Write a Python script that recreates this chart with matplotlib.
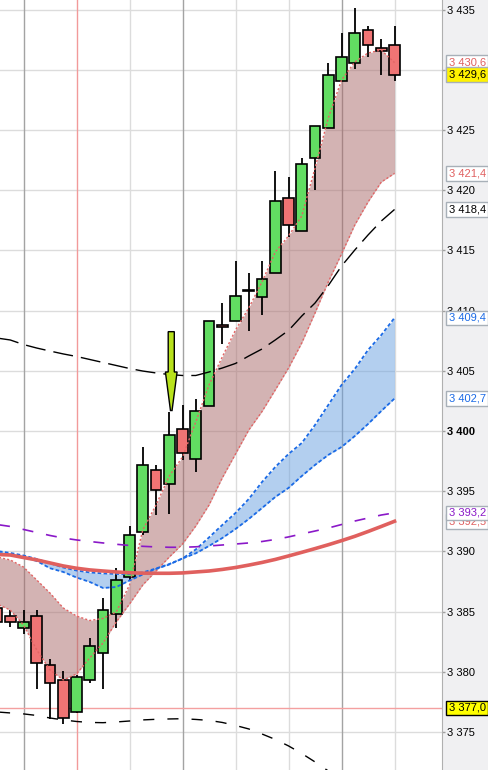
import numpy as np
import matplotlib.pyplot as plt

plt.rcParams['font.family'] = ['Liberation Sans', 'DejaVu Sans']

# bars, left to right (the first one is cut off by the left edge)
bar_open = [3385.3, 3384.6, 3383.6, 3384.6, 3380.6, 3379.3, 3376.65, 3379.3, 3381.6, 3384.8,
            3387.85, 3391.6, 3396.8, 3395.6, 3400.15, 3397.65, 3402.1, 3408.8, 3409.1, 3411.6,
            3411.1, 3413.1, 3419.35, 3416.6, 3422.65, 3425.15, 3429.1, 3430.6, 3433.3, 3431.8, 3432.1]
bar_high = [3385.8, 3385.1, 3385.1, 3385.1, 3381.1, 3380.1, 3379.7, 3382.8, 3386.1, 3388.6,
            3392.1, 3398.65, 3397.15, 3401.6, 3402.15, 3402.65, 3409.1, 3410.65, 3414.1, 3413.1,
            3414.1, 3421.6, 3421.1, 3422.65, 3425.3, 3430.6, 3433.1, 3435.15, 3433.6, 3432.6, 3433.6]
bar_low = [3383.8, 3383.75, 3383.1, 3378.6, 3376.1, 3375.65, 3376.6, 3379.1, 3378.6, 3383.6,
           3387.6, 3391.35, 3393.0, 3393.1, 3397.6, 3396.6, 3402.1, 3407.25, 3409.1, 3408.3,
           3409.6, 3413.1, 3416.1, 3416.6, 3420.0, 3425.15, 3429.1, 3430.1, 3431.1, 3429.6, 3429.1]
bar_close = [3384.1, 3384.1, 3384.1, 3380.75, 3379.1, 3376.15, 3379.6, 3382.1, 3385.1, 3387.6,
             3391.35, 3397.15, 3395.1, 3399.65, 3398.15, 3401.65, 3409.1, 3408.6, 3411.25, 3411.6,
             3412.6, 3419.1, 3417.1, 3422.15, 3425.3, 3429.6, 3431.1, 3433.1, 3432.1, 3431.6, 3429.6]
first_bar = -1

# brown band
cloud_upper = [3389.53, 3389.29, 3388.70, 3387.62, 3386.54, 3385.30, 3384.63, 3384.26, 3384.43, 3384.97,
               3387.21, 3391.78, 3393.85, 3396.26, 3397.84, 3400.75, 3403.82, 3406.15, 3408.39, 3410.22,
               3412.38, 3414.87, 3416.20, 3417.86, 3421.84, 3426.00, 3429.15, 3430.65, 3431.40, 3431.64, 3430.6]
cloud_lower = [3385.63, 3385.13, 3383.89, 3381.81, 3380.15, 3379.32, 3379.82, 3381.15, 3382.39, 3384.14,
               3385.63, 3387.21, 3388.37, 3389.53, 3390.61, 3392.11, 3393.85, 3396.10, 3398.09, 3400.08,
               3401.62, 3403.41, 3405.23, 3407.31, 3409.80, 3412.38, 3414.70, 3417.11, 3419.02, 3420.68, 3421.4]

# blue band
channel_upper = [3390.03, 3389.87, 3389.66, 3389.37, 3389.01, 3388.66, 3388.41, 3388.25, 3388.17, 3388.12,
                 3388.12, 3388.25, 3388.58, 3388.95, 3389.41, 3390.16, 3391.16, 3392.19, 3393.19, 3394.35,
                 3395.76, 3397.01, 3398.09, 3399.00, 3400.50, 3402.16, 3403.82, 3405.15, 3406.73, 3407.97, 3409.4]
channel_lower = [3389.87, 3389.74, 3389.53, 3389.20, 3388.60, 3388.29, 3387.83, 3387.46, 3386.96, 3387.04,
                 3387.58, 3388.08, 3388.54, 3388.91, 3389.41, 3389.84, 3390.45, 3391.11, 3391.86, 3392.69,
                 3393.60, 3394.52, 3395.27, 3396.26, 3397.18, 3398.01, 3398.67, 3399.58, 3400.58, 3401.66, 3402.7]

sma_line = [3389.74, 3389.70, 3389.49, 3389.29, 3389.04, 3388.79, 3388.60, 3388.46, 3388.37, 3388.29,
            3388.23, 3388.19, 3388.18, 3388.18, 3388.21, 3388.29, 3388.37, 3388.50, 3388.66, 3388.86,
            3389.08, 3389.33, 3389.62, 3389.92, 3390.23, 3390.55, 3390.89, 3391.25, 3391.65, 3392.07, 3392.5]
ma_dashed = [3392.23, 3392.07, 3391.82, 3391.57, 3391.32, 3391.11, 3390.95, 3390.82, 3390.70, 3390.59,
             3390.49, 3390.42, 3390.37, 3390.34, 3390.34, 3390.38, 3390.45, 3390.53, 3390.61, 3390.70,
             3390.82, 3390.99, 3391.20, 3391.45, 3391.69, 3391.94, 3392.23, 3392.52, 3392.77, 3393.02, 3393.2]
env_upper = [3407.72, 3407.56, 3407.18, 3406.89, 3406.64, 3406.40, 3406.19, 3405.94, 3405.69, 3405.44,
             3405.19, 3404.98, 3404.82, 3404.69, 3404.61, 3404.61, 3404.90, 3405.23, 3405.61, 3406.23,
             3406.81, 3407.56, 3408.35, 3409.55, 3410.63, 3412.08, 3413.70, 3415.03, 3416.28, 3417.44, 3418.4]
env_lower = [3376.66, 3376.58, 3376.50, 3376.37, 3376.16, 3376.00, 3375.87, 3375.79, 3375.77, 3375.83,
             3375.91, 3376.00, 3376.05, 3376.08, 3376.10, 3376.04, 3375.96, 3375.79, 3375.54, 3375.25,
             3374.83, 3374.38, 3373.84, 3373.21, 3372.51, 3371.76, 3371.00, 3370.20, 3369.40, 3368.50, 3367.6]

level_price = 3377.0
signal_bar = 12
session_bar = 5
grid_bars = [1, 5, 9, 13, 17, 21, 25, 29]
y_ticks = [3375, 3380, 3385, 3390, 3395, 3400, 3405, 3410, 3415, 3420, 3425, 3430, 3435]


def price_text(v):
    return f"{v:,.1f}".replace(",", " ").replace(".", ",")


def tick_text(v):
    return f"{v:,.0f}".replace(",", " ")


x = np.arange(len(bar_open)) + first_bar

fig = plt.figure(figsize=(4.88, 7.70), dpi=100, facecolor='#f0f0f2')
ax = fig.add_axes([0, 0, 441.7 / 488, 1])
ax.set_xlim(-0.774, 32.56)
ax.set_ylim(3371.84, 3435.80)

# grid
for t in y_ticks:
    ax.axhline(t, color='#dcdcdc', lw=1, zorder=0)
for b in grid_bars:
    if b == session_bar:
        col = '#f29a9a'
    elif (b - grid_bars[0]) % 12 == 0:
        col = '#a3a3a3'
    else:
        col = '#dcdcdc'
    ax.axvline(b, color=col, lw=1, zorder=0.5)
ax.axhline(level_price, color='#f4a0a0', lw=1, zorder=0.6)

# bands
ax.fill_between(x, cloud_lower, cloud_upper, color='#a96969', alpha=0.5, lw=0, zorder=1)
ax.fill_between(x, channel_lower, channel_upper, color='#69a1e1', alpha=0.5, lw=0, zorder=1.1)

# candles
o = np.array(bar_open)
c = np.array(bar_close)
up = c >= o
ax.vlines(x, bar_low, bar_high, color='black', lw=1.3, zorder=2)
body = np.maximum(np.abs(c - o), 0.1)
ax.bar(x, body, width=0.8, bottom=np.minimum(o, c),
       color=['#62dd62' if u else '#f07474' for u in up],
       edgecolor='black', linewidth=1.2, zorder=2.1)

# lines
ax.plot(x, cloud_upper, color='#e26464', lw=1, ls=(0, (1.5, 1.5)), zorder=3)
ax.plot(x, cloud_lower, color='#e26464', lw=1, ls=(0, (1.5, 1.5)), zorder=3)
ax.plot(x, channel_upper, color='#1a6ae6', lw=1.3, ls=(0, (2, 1.3)), zorder=3)
ax.plot(x, channel_lower, color='#1a6ae6', lw=1.3, ls=(0, (2, 1.3)), zorder=3)
ax.plot(x, sma_line, color='#e0605e', lw=2.6, zorder=3)
ax.plot(x, ma_dashed, color='#8a18c8', lw=1.2, dashes=(6.6, 7.8), zorder=3)
ax.plot(x, env_upper, color='black', lw=1, dashes=(14.4, 5.8), zorder=3)
ax.plot(x, env_lower, color='black', lw=1, dashes=(8, 9.4), zorder=3)

# signal arrow above the bar
k = signal_bar - first_bar
ax_x = signal_bar + 0.15
tip = bar_high[k] + 0.1
head = tip + 3.2
tail = tip + 6.55
ax.fill([ax_x - 0.23, ax_x + 0.23, ax_x + 0.23, ax_x + 0.44, ax_x + 0.06, ax_x - 0.06, ax_x - 0.44, ax_x - 0.23],
        [tail, tail, head, head, tip, tip, head, head],
        facecolor='#b8e21c', edgecolor='black', lw=1, zorder=4)

# axis
ax.set_xticks([])
ax.yaxis.tick_right()
ax.set_yticks(y_ticks)
ax.set_yticklabels([tick_text(t) for t in y_ticks])
ax.tick_params(axis='y', direction='out', length=2.5, width=1, color='#a0a0a0',
               pad=1.5, labelsize=8, labelcolor='black')
for lbl in ax.get_yticklabels():
    if lbl.get_text() == tick_text(3400):
        lbl.set_fontweight('bold')
for s in ['top', 'left', 'bottom']:
    ax.spines[s].set_visible(False)
ax.spines['right'].set_color('#b0b0b0')


def side_label(v, color, face, edge):
    ax.annotate(price_text(v), xy=(1, v), xycoords=('axes fraction', 'data'),
                xytext=(7, 0), textcoords='offset pixels', ha='left', va='center',
                fontsize=8, color=color, annotation_clip=False, zorder=10,
                bbox=dict(boxstyle='square,pad=0.2', fc=face, ec=edge, lw=1))


side_label(cloud_upper[-1], '#e06060', 'white', '#a8b0b8')
side_label(bar_close[-1], 'black', '#fff200', '#a8b0b8')
side_label(cloud_lower[-1], '#e06060', 'white', '#a8b0b8')
side_label(env_upper[-1], 'black', 'white', '#a8b0b8')
side_label(channel_upper[-1], '#1a6ae6', 'white', '#a8b0b8')
side_label(channel_lower[-1], '#1a6ae6', 'white', '#a8b0b8')
side_label(sma_line[-1], '#e06060', 'white', '#a8b0b8')
side_label(ma_dashed[-1], '#8a18c8', 'white', '#a8b0b8')
side_label(level_price, 'black', '#ffff00', 'black')

fig.savefig('out.png', dpi=100, facecolor=fig.get_facecolor())
